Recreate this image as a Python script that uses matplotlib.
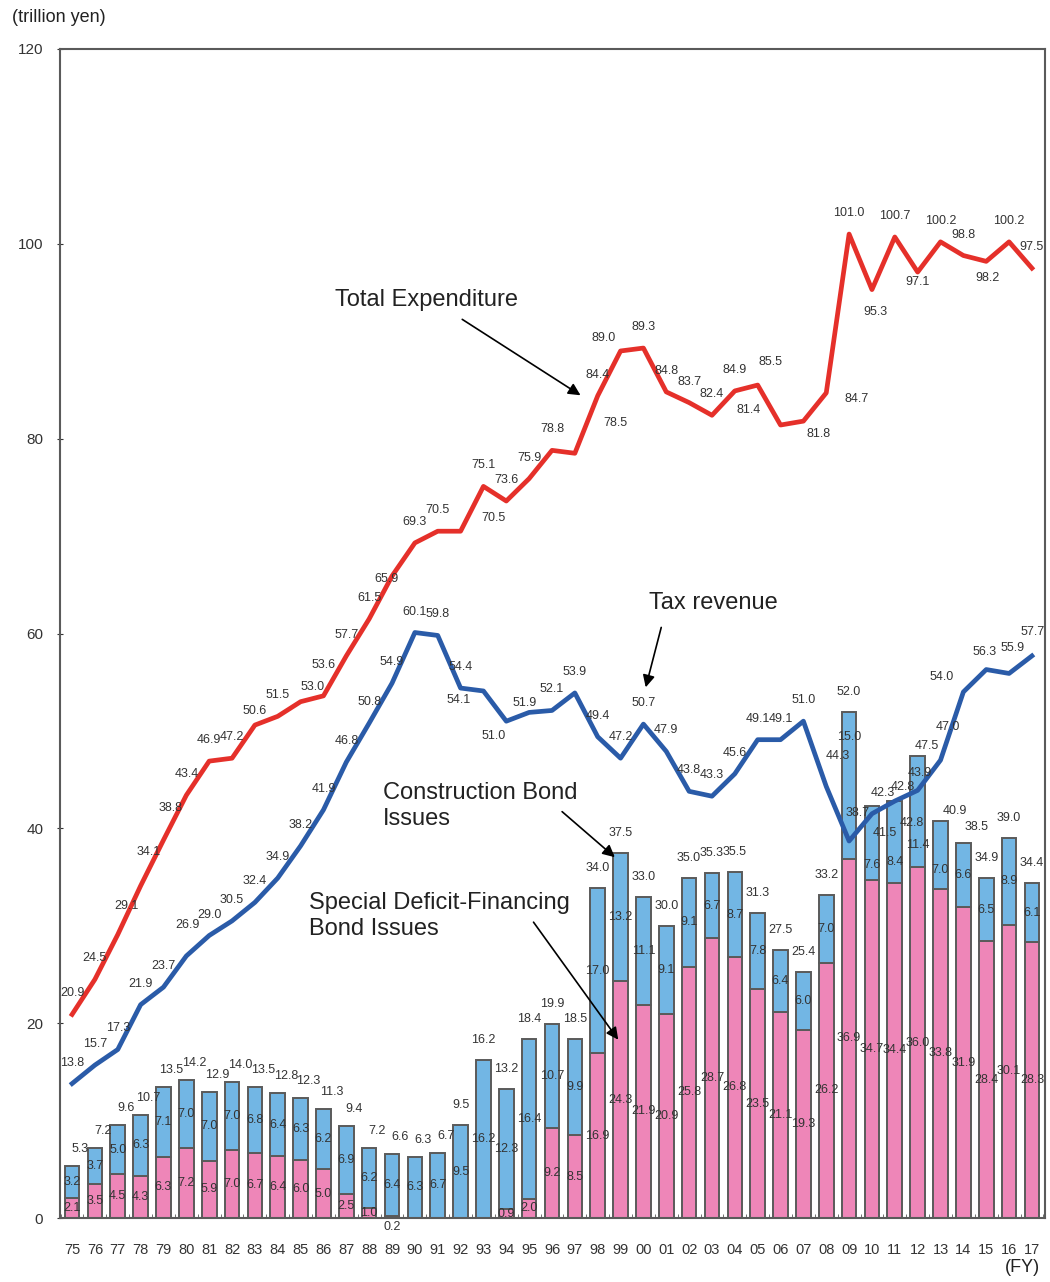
import matplotlib.pyplot as plt
import numpy as np

plt.rcParams['font.family'] = ['Liberation Sans', 'DejaVu Sans']

# Fiscal years 1975-2017
years = ['75', '76', '77', '78', '79', '80', '81', '82', '83', '84', '85', '86', '87', '88',
         '89', '90', '91', '92', '93', '94', '95', '96', '97', '98', '99', '00', '01', '02',
         '03', '04', '05', '06', '07', '08', '09', '10', '11', '12', '13', '14', '15', '16', '17']

total_expenditure = [20.9, 24.5, 29.1, 34.1, 38.8, 43.4, 46.9, 47.2, 50.6, 51.5, 53.0, 53.6,
                     57.7, 61.5, 65.9, 69.3, 70.5, 70.5, 75.1, 73.6, 75.9, 78.8, 78.5, 84.4,
                     89.0, 89.3, 84.8, 83.7, 82.4, 84.9, 85.5, 81.4, 81.8, 84.7, 101.0, 95.3,
                     100.7, 97.1, 100.2, 98.8, 98.2, 100.2, 97.5]

tax_revenue = [13.8, 15.7, 17.3, 21.9, 23.7, 26.9, 29.0, 30.5, 32.4, 34.9, 38.2, 41.9, 46.8,
               50.8, 54.9, 60.1, 59.8, 54.4, 54.1, 51.0, 51.9, 52.1, 53.9, 49.4, 47.2, 50.7,
               47.9, 43.8, 43.3, 45.6, 49.1, 49.1, 51.0, 44.3, 38.7, 41.5, 42.8, 43.9, 47.0,
               54.0, 56.3, 55.9, 57.7]

deficit_bonds = [2.1, 3.5, 4.5, 4.3, 6.3, 7.2, 5.9, 7.0, 6.7, 6.4, 6.0, 5.0, 2.5, 1.0, 0.2,
                 0.0, 0.0, 0.0, 0.0, 0.9, 2.0, 9.2, 8.5, 16.9, 24.3, 21.9, 20.9, 25.8, 28.7,
                 26.8, 23.5, 21.1, 19.3, 26.2, 36.9, 34.7, 34.4, 36.0, 33.8, 31.9, 28.4, 30.1,
                 28.3]

construction_bonds = [3.2, 3.7, 5.0, 6.3, 7.1, 7.0, 7.0, 7.0, 6.8, 6.4, 6.3, 6.2, 6.9, 6.2,
                      6.4, 6.3, 6.7, 9.5, 16.2, 12.3, 16.4, 10.7, 9.9, 17.0, 13.2, 11.1, 9.1,
                      9.1, 6.7, 8.7, 7.8, 6.4, 6.0, 7.0, 15.0, 7.6, 8.4, 11.4, 7.0, 6.6, 6.5,
                      8.9, 6.1]

total_bonds = [5.3, 7.2, 9.6, 10.7, 13.5, 14.2, 12.9, 14.0, 13.5, 12.8, 12.3, 11.3, 9.4, 7.2,
               6.6, 6.3, 6.7, 9.5, 16.2, 13.2, 18.4, 19.9, 18.5, 34.0, 37.5, 33.0, 30.0, 35.0,
               35.3, 35.5, 31.3, 27.5, 25.4, 33.2, 52.0, 42.3, 42.8, 47.5, 40.9, 38.5, 34.9,
               39.0, 34.4]

# label offsets (pixels) where the default "just above" placement is not used
red_off = {2: (9, 29), 3: (8, 34), 4: (7, 32), 8: (0, 14), 10: (12, 15), 11: (0, 31),
           14: (-6, -3), 17: (33, 13), 22: (41, 30), 24: (-17, 13), 30: (13, 23),
           31: (-32, 15), 32: (15, -13), 33: (30, -6), 35: (3, -22), 37: (0, -10),
           40: (1, -17)}
tax_off = {5: (1, 31), 18: (-25, -9), 19: (-13, -15), 20: (-5, 9), 33: (12, 30),
           34: (9, 28), 35: (13, -19), 36: (17, -22), 37: (2, 17), 38: (7, 33),
           39: (-22, 15), 40: (-2, 18), 41: (3, 25), 42: (1, 24)}
bar_off = {35: (11, 13), 36: (8, 14), 37: (9, 10), 38: (14, 10), 39: (13, 16)}
con_off = {34: 48, 35: -22, 36: -20, 37: -33, 38: -15}

x = np.arange(len(years))
deficit = np.array(deficit_bonds)
construction = np.array(construction_bonds)

fig = plt.figure(figsize=(10.5, 12.82), dpi=100)
ax = fig.add_axes([0.0571, 0.0499, 0.9381, 0.9119])

pink = '#ee86b8'
blue = '#72b6e4'
edge = '#5a5a5a'
txt = '#333333'
fs = 9

ax.bar(x, deficit, width=0.64, color=pink, edgecolor=edge, linewidth=1.4, zorder=2)
ax.bar(x, construction, bottom=deficit, width=0.64, color=blue, edgecolor=edge,
       linewidth=1.4, zorder=2)

ax.plot(x, total_expenditure, color='#e5302a', linewidth=3.4, zorder=3)
ax.plot(x, tax_revenue, color='#2a5ba8', linewidth=3.4, zorder=3)

# value labels
for i in x:
    dx, dy = red_off.get(i, (0, 21))
    ax.annotate(f'{total_expenditure[i]:.1f}', (i, total_expenditure[i]), xytext=(dx, dy),
                textcoords='offset pixels', ha='center', va='center', fontsize=fs, color=txt,
                zorder=5)
    dx, dy = tax_off.get(i, (0, 21))
    ax.annotate(f'{tax_revenue[i]:.1f}', (i, tax_revenue[i]), xytext=(dx, dy),
                textcoords='offset pixels', ha='center', va='center', fontsize=fs, color=txt,
                zorder=5)
    dx, dy = bar_off.get(i, (8 if i <= 16 else 0, 17 if i <= 16 else 20))
    ax.annotate(f'{total_bonds[i]:.1f}', (i, deficit[i] + construction[i]), xytext=(dx, dy),
                textcoords='offset pixels', ha='center', va='center', fontsize=fs, color=txt,
                zorder=5)
    ax.annotate(f'{construction[i]:.1f}', (i, deficit[i] + construction[i] / 2),
                xytext=(0, con_off.get(i, 0)), textcoords='offset pixels', ha='center',
                va='center', fontsize=fs, color=txt, zorder=5)
    if deficit[i] > 0:
        dy = -10 if deficit[i] < 0.5 else 0
        ax.annotate(f'{deficit[i]:.1f}', (i, deficit[i] / 2), xytext=(0, dy),
                    textcoords='offset pixels', ha='center', va='center', fontsize=fs,
                    color=txt, zorder=5, annotation_clip=False)

# series annotations
arrow = dict(arrowstyle='-|>', color='black', lw=1.2, mutation_scale=18)
big = 17
ax.text(15.53, 94.2, 'Total Expenditure', fontsize=big, ha='center', va='center', color='#222')
ax.annotate('', xy=(22.35, 84.3), xytext=(16.97, 92.4), arrowprops=arrow)
ax.text(28.04, 63.1, 'Tax revenue', fontsize=big, ha='center', va='center', color='#222')
ax.annotate('', xy=(25.07, 54.2), xytext=(25.81, 60.9), arrowprops=arrow)
ax.text(13.6, 42.3, 'Construction Bond\nIssues', fontsize=big, ha='left', va='center',
        color='#222', linespacing=1.25)
ax.annotate('', xy=(23.84, 36.85), xytext=(21.35, 41.9), arrowprops=arrow)
ax.text(10.37, 31.0, 'Special Deficit-Financing\nBond Issues', fontsize=big, ha='left',
        va='center', color='#222', linespacing=1.25)
ax.annotate('', xy=(23.97, 18.07), xytext=(20.12, 30.6), arrowprops=arrow)

ax.set_xlim(-0.53, 42.57)
ax.set_ylim(0, 120)
ax.set_yticks(range(0, 121, 20))
ax.set_xticks(x)
ax.set_xticklabels(years)
ax.set_xticks(np.arange(-0.5, 42.6, 1), minor=True)
ax.tick_params(axis='x', which='major', length=0, labelsize=10.5, pad=18, colors=txt)
ax.tick_params(axis='x', which='minor', length=3, direction='in', color=edge)
ax.tick_params(axis='y', length=4, direction='inout', labelsize=11, pad=10, colors=txt)
for s in ax.spines.values():
    s.set_color(edge)
    s.set_linewidth(1.5)

fig.text(0.011, 0.986, '(trillion yen)', fontsize=13, ha='left', va='center', color='#222')
fig.text(0.99, 0.011, '(FY)', fontsize=13, ha='right', va='center', color='#222')

fig.savefig('out.png', dpi=100)
